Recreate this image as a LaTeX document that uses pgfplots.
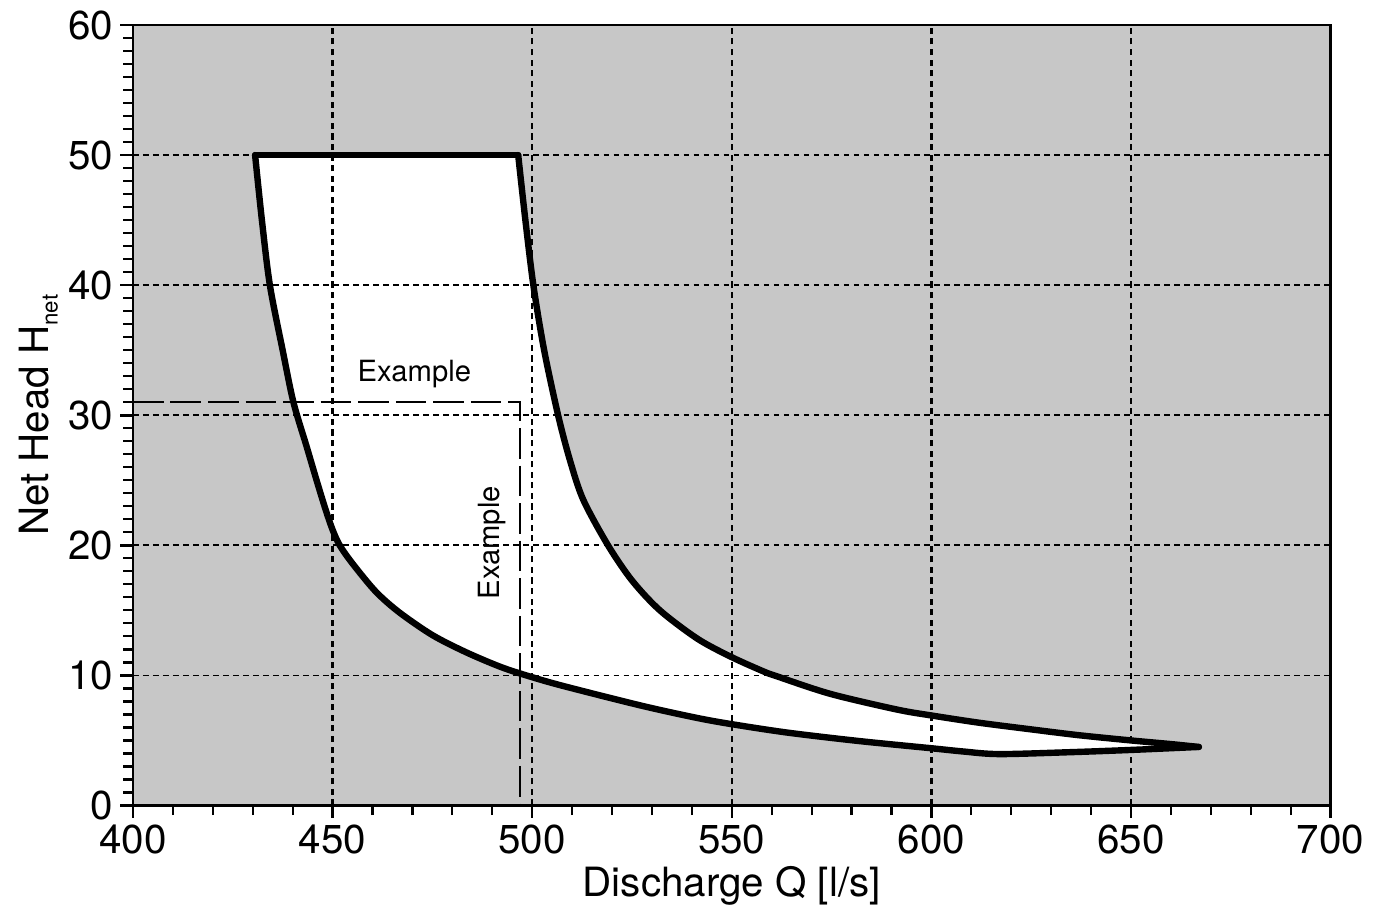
\documentclass[border=0pt]{standalone}
\usepackage{pgfplots}
\pgfplotsset{compat=1.18}
\usepgfplotslibrary{fillbetween}
\usepackage{pgfplotstable}
\usepackage{fontspec}
\setmainfont{TeX Gyre Heros}
\usetikzlibrary{calc}
\pgfplotstableread{
x y
496.5 50
498.3 45
500.3 40
503.0 35
506.5 30
509.5 26.5
512.8 23.5
519.0 20.0
525.0 17.3
532.0 15.0
541.5 12.8
550.0 11.4
558.0 10.3
561.4 9.92
574.7 8.58
591.3 7.38
600.0 6.92
612.0 6.36
625.0 5.85
637.0 5.4
650.0 5.0
660.0 4.72
667.0 4.5
}\uppercurve
\pgfplotstableread{
x y
430.6 50
432.3 45
434.3 40
437.5 35
440.2 31
443.5 27.6
446.0 25.0
448.2 22.8
450.0 21.2
451.8 20.0
455.0 18.6
460.8 16.45
466.7 14.85
475.0 13.1
483.3 11.8
491.7 10.7
498.0 10.05
507.0 9.25
527.0 7.7
541.0 6.75
550.0 6.25
564.0 5.6
582.0 4.95
600.0 4.4
608.0 4.15
617.0 3.95
635.0 4.1
650.0 4.27
667.0 4.5
}\lowercurve
\begin{document}
\begin{tikzpicture}
\begin{axis}[
  scale only axis,
  width=430.6pt, height=280.6pt,
  xmin=400, xmax=700, ymin=0, ymax=60,
  xtick={400,450,...,700}, ytick={0,10,...,60},
  minor xtick={410,420,...,690}, minor ytick={1,2,...,59},
  tick align=outside,
  xtick pos=left, ytick pos=left,
  major tick length=4.5pt, minor tick length=3.5pt,
  tick style={line width=0.9pt, black},
  minor tick style={line width=0.8pt},
  axis line style={line width=1pt},
  /pgf/number format/assume math mode=true,
  /pgf/number format/1000 sep={},
  ticklabel style={font=\fontsize{14.5}{16}\selectfont},
  yticklabel style={xshift=1pt},
  xticklabel style={yshift=1pt},
  grid=major,
  x grid style={black, line width=0.85pt, dash pattern=on 2.2pt off 1.6pt},
  y grid style={black, line width=0.65pt, dash pattern=on 2pt off 1.6pt},
  axis background/.style={fill=black!22},
  axis on top,
  clip=false,
]
\addplot[name path=U, draw=none, smooth, tension=0.5, forget plot] table {\uppercurve};
\addplot[name path=L, draw=none, smooth, tension=0.5, forget plot] table {\lowercurve};
\addplot[white, forget plot] fill between[of=U and L];
% boundaries
\addplot[black, line width=2.3pt, line cap=round, smooth, tension=0.5] table {\uppercurve};
\addplot[black, line width=2.3pt, line cap=round, smooth, tension=0.5] table {\lowercurve};
\addplot[black, line width=2.3pt, line cap=round] coordinates {(430.6,50) (496.5,50)};
% example lines
\addplot[black, line width=0.6pt, dash pattern=on 11pt off 2.5pt] coordinates {(400,31) (497,31) (497,0)};
\node[font=\fontsize{10.5}{12}\selectfont] at (axis cs:470.5,33.2) {Example};
\node[font=\fontsize{10.5}{12}\selectfont, rotate=90] at (axis cs:490,20.2) {Example};
\end{axis}
\node[font=\fontsize{14.5}{16}\selectfont] at ($(current axis.south)+(0,-29pt)$) {Discharge Q [l/s]};
\node[font=\fontsize{14.5}{16}\selectfont, rotate=90] at ($(current axis.west)+(-34pt,0)$) {Net Head H\raisebox{-0.45ex}{\fontsize{8}{9}\selectfont net}};
\path ($(current axis.south west)+(-47.8pt,-39.6pt)$) rectangle ($(current axis.north east)+(21pt,9pt)$);
\end{tikzpicture}
\end{document}
